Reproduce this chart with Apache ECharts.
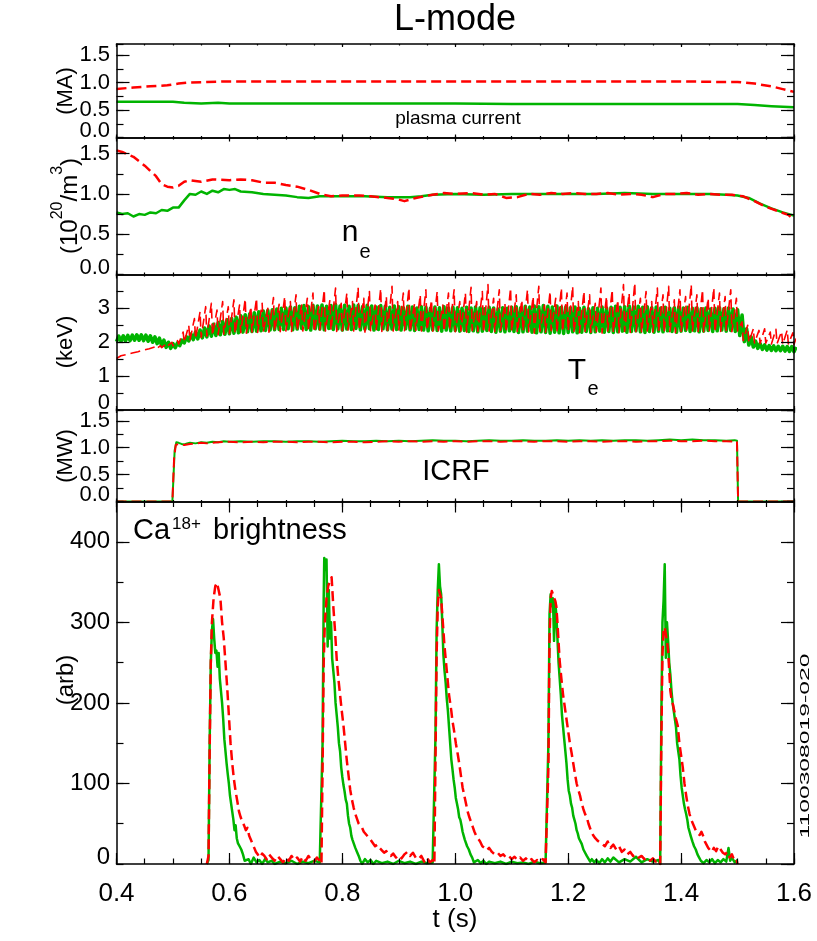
<!DOCTYPE html>
<html><head><meta charset="utf-8">
<script src="https://cdn.jsdelivr.net/npm/echarts@6/dist/echarts.min.js"></script>
<style>html,body{margin:0;padding:0;background:#fff}#c{width:817px;height:941px}</style>
</head><body><div id="c"></div>
<script>
// ---------------- DATA ----------------
const xTickLabels = ['0.4','0.6','0.8','1.0','1.2','1.4','1.6'];
const ipTickLabels = ['0.0','0.5','1.0','1.5'];
const neTickLabels = ['0.0','0.5','1.0','1.5'];
const teTickLabels = ['0','1','2','3'];
const icrfTickLabels = ['0.0','0.5','1.0','1.5'];
const caTickLabels = ['0','100','200','300','400'];

// plasma current (MA): [t, value]
const ipRed = [[0.40,0.88],[0.43,0.91],[0.46,0.93],[0.49,0.95],[0.51,0.98],[0.53,1.00],[0.56,1.01],[0.60,1.02],[0.65,1.02],[0.70,1.02],[0.80,1.02],[0.90,1.02],[1.00,1.02],[1.10,1.02],[1.20,1.02],[1.30,1.02],[1.40,1.02],[1.47,1.01],[1.50,1.01],[1.53,0.98],[1.56,0.93],[1.58,0.88],[1.60,0.83]];
const ipGreen = [[0.40,0.65],[0.45,0.65],[0.50,0.65],[0.52,0.63],[0.55,0.62],[0.58,0.63],[0.60,0.62],[0.70,0.62],[0.80,0.62],[0.90,0.62],[1.00,0.62],[1.10,0.61],[1.20,0.61],[1.30,0.61],[1.40,0.61],[1.50,0.61],[1.53,0.59],[1.56,0.57],[1.60,0.55]];

// density (1e20/m3): [t, value]
const neRed = [[0.40,1.54],[0.41,1.52],[0.43,1.46],[0.45,1.35],[0.47,1.22],[0.48,1.12],[0.49,1.09],[0.50,1.08],[0.51,1.10],[0.52,1.15],[0.53,1.17],[0.55,1.15],[0.57,1.18],[0.60,1.17],[0.62,1.18],[0.64,1.17],[0.66,1.14],[0.68,1.14],[0.70,1.11],[0.72,1.09],[0.74,1.05],[0.76,1.00],[0.78,0.97],[0.80,0.98],[0.83,0.98],[0.85,0.97],[0.88,0.95],[0.90,0.93],[0.91,0.91],[0.93,0.95],[0.96,0.99],[0.98,1.01],[1.00,1.00],[1.03,1.01],[1.05,0.99],[1.07,1.00],[1.09,0.95],[1.11,0.96],[1.13,1.00],[1.15,0.99],[1.17,1.01],[1.19,1.00],[1.21,1.01],[1.23,1.00],[1.25,1.00],[1.27,1.01],[1.29,0.99],[1.31,1.00],[1.33,0.99],[1.35,0.96],[1.37,1.00],[1.39,1.00],[1.41,1.01],[1.43,0.99],[1.45,1.00],[1.47,0.99],[1.49,0.99],[1.51,0.97],[1.53,0.91],[1.55,0.84],[1.57,0.79],[1.59,0.74],[1.60,0.68]];
const neGreen = [[0.40,0.77],[0.41,0.75],[0.42,0.76],[0.43,0.72],[0.44,0.75],[0.45,0.74],[0.46,0.77],[0.47,0.76],[0.48,0.80],[0.49,0.79],[0.50,0.83],[0.51,0.83],[0.52,0.92],[0.53,1.00],[0.54,0.99],[0.55,1.03],[0.56,1.00],[0.57,1.04],[0.58,1.02],[0.59,1.06],[0.60,1.05],[0.61,1.06],[0.62,1.03],[0.64,1.02],[0.66,1.00],[0.68,0.99],[0.70,0.98],[0.72,0.96],[0.74,0.95],[0.76,0.97],[0.78,0.97],[0.80,0.97],[0.84,0.97],[0.88,0.96],[0.92,0.96],[0.94,0.97],[0.96,0.99],[1.00,1.00],[1.05,0.99],[1.10,1.00],[1.15,1.00],[1.20,1.00],[1.25,1.00],[1.30,1.01],[1.35,1.00],[1.40,1.00],[1.45,1.00],[1.48,0.99],[1.50,0.98],[1.52,0.95],[1.54,0.88],[1.56,0.82],[1.58,0.77],[1.60,0.73]];

// electron temperature (keV): sawtooth troughs (lo) and crests (hi) sampled on a regular time base
const teGreenT0 = 0.4, teGreenStep = 0.008, teGreenHiOffset = 0.004;
const teGreenLo = [2.02,2.03,2.04,2.05,2.06,2.06,2.05,2.03,2.00,1.96,1.90,1.85,1.82,
 1.84,1.90,1.98,2.04,2.08,2.10,2.13,2.16,
 2.18,2.20,2.22,2.24,2.25,2.27,2.28,2.30,2.31,2.32,2.33,2.34,2.35,2.36,2.37,2.38,
 2.38,2.40,2.37,2.39,2.41,2.38,2.36,2.40,2.39,2.37,2.41,2.38,2.40,2.36,2.39,2.38,2.41,2.37,2.39,2.40,
 2.36,2.38,2.40,2.37,2.39,2.38,2.36,2.40,2.37,2.35,2.38,2.36,2.34,2.37,2.35,2.33,2.36,2.34,2.35,
 2.33,2.35,2.32,2.34,2.31,2.33,2.35,2.32,2.30,2.33,2.31,2.34,2.32,2.29,2.31,2.33,2.30,2.28,2.31,2.29,
 2.27,2.30,2.28,2.26,2.29,2.31,2.28,2.30,2.32,2.29,2.31,2.33,2.30,2.32,2.29,2.31,2.33,2.30,2.32,2.34,
 2.31,2.29,2.32,2.30,2.33,2.31,2.34,2.32,2.30,2.33,2.35,2.32,2.34,2.31,2.33,2.35,2.32,2.34,2.36,2.33,
 2.35,2.32,
 2.20,2.02,1.92,1.86,1.82,1.79,1.77,1.76,1.75,1.75,1.74,1.73,1.72];
const teGreenHi = [2.18,2.19,2.20,2.21,2.22,2.22,2.21,2.19,2.16,2.12,2.06,2.00,1.96,
 1.98,2.06,2.16,2.24,2.30,2.36,2.42,2.48,
 2.53,2.58,2.62,2.66,2.70,2.74,2.78,2.81,2.84,2.87,2.90,2.92,2.94,2.96,2.98,3.00,
 3.01,3.04,3.02,3.06,3.08,3.05,3.09,3.07,3.10,3.06,3.08,3.11,3.07,3.09,3.06,3.10,3.08,3.05,3.09,3.07,
 3.04,3.08,3.06,3.03,3.07,3.05,3.02,3.06,3.04,3.01,3.05,3.03,3.00,3.04,3.02,3.05,3.01,3.03,3.02,
 3.00,3.03,3.01,3.04,3.02,2.99,3.03,3.01,2.98,3.02,3.00,3.03,3.05,3.02,3.06,3.04,3.07,3.05,3.08,3.06,
 3.04,3.07,3.03,3.05,3.02,3.04,3.00,3.03,2.99,3.02,3.00,3.04,3.01,3.03,3.06,3.03,3.05,3.07,3.04,3.06,
 3.03,3.05,3.02,3.04,3.01,3.03,3.00,3.02,3.04,3.01,3.03,3.00,3.02,2.99,3.01,2.98,3.00,3.02,2.99,3.01,
 2.98,2.96,
 2.80,2.40,2.16,2.03,1.96,1.92,1.90,1.89,1.88,1.88,1.87,1.87,1.86];
const teRedT0 = 0.4, teRedStep = 0.01, teRedHiOffset = 0.008;
const teRedLo = [1.52,1.56,1.60,1.64,1.68,1.72,1.76,1.80,1.84,1.88,1.90,
 1.95,2.00,2.05,2.10,2.14,
 2.18,2.20,2.22,2.24,2.25,
 2.26,2.28,2.27,2.30,2.29,2.31,2.30,2.32,2.31,2.33,
 2.32,2.34,2.33,2.35,2.30,2.36,2.33,2.35,2.32,2.34,
 2.36,2.33,2.35,2.30,2.34,2.37,2.32,2.35,2.33,2.36,
 2.34,2.31,2.35,2.33,2.36,2.30,2.34,2.32,2.35,2.31,
 2.33,2.30,2.34,2.32,2.28,2.33,2.31,2.35,2.30,2.32,
 2.29,2.33,2.31,2.27,2.32,2.30,2.34,2.28,2.31,2.33,
 2.30,2.28,2.32,2.29,2.31,2.27,2.33,2.30,2.28,2.32,
 2.29,2.31,2.28,2.33,2.30,2.32,2.29,2.31,2.28,2.32,
 2.30,2.33,2.29,2.31,2.34,2.30,2.32,2.35,2.31,2.33,
 2.05,2.00,1.98,1.96,1.97,1.95,1.96,1.94,1.95,1.93];
const teRedHi = [1.60,1.64,1.68,1.72,1.77,1.81,1.86,1.90,1.95,2.00,2.05,
 2.30,2.50,2.70,2.90,3.05,
 3.15,2.95,3.20,3.05,3.25,
 3.10,3.28,3.05,3.30,3.15,3.00,3.32,3.12,3.35,3.20,
 3.40,3.10,3.30,3.45,3.05,3.55,3.25,3.60,3.15,3.45,
 3.20,3.62,3.30,3.50,3.10,3.58,3.35,3.65,3.20,3.45,
 3.60,3.15,3.40,3.55,3.25,3.50,3.10,3.45,3.55,3.20,
 3.45,3.62,3.20,3.50,3.70,3.30,3.55,3.15,3.60,3.40,
 3.25,3.55,3.35,3.65,3.10,3.50,3.30,3.60,3.45,3.65,
 3.20,3.50,3.40,3.15,3.60,3.35,3.55,3.25,3.70,3.45,
 3.75,3.30,3.50,3.20,3.60,3.40,3.65,3.25,3.55,3.35,
 3.70,3.40,3.55,3.30,3.60,3.45,3.35,3.55,3.30,2.60,
 2.50,2.40,2.35,2.40,2.30,2.38,2.32,2.36,2.28,2.34];

// ICRF power (MW): [t, value]
const icrfGreen = [[0.40,0],[0.499,0],[0.503,0.95],[0.506,1.10],[0.51,1.09],[0.515,1.07],[0.52,1.06],[0.525,1.08],[0.53,1.09],[0.54,1.08],[0.55,1.10],[0.56,1.09],[0.57,1.11],[0.58,1.10],[0.59,1.12],[0.60,1.11],[0.62,1.12],[0.64,1.11],[0.66,1.12],[0.68,1.12],[0.70,1.11],[0.72,1.12],[0.74,1.12],[0.76,1.11],[0.78,1.12],[0.80,1.13],[0.82,1.12],[0.84,1.12],[0.86,1.13],[0.88,1.12],[0.90,1.13],[0.92,1.12],[0.94,1.13],[0.96,1.14],[0.98,1.13],[1.00,1.13],[1.02,1.12],[1.04,1.13],[1.06,1.14],[1.08,1.13],[1.10,1.13],[1.12,1.14],[1.14,1.13],[1.16,1.13],[1.18,1.14],[1.20,1.13],[1.22,1.14],[1.24,1.13],[1.26,1.14],[1.28,1.13],[1.30,1.14],[1.32,1.14],[1.34,1.13],[1.36,1.14],[1.38,1.15],[1.40,1.14],[1.42,1.15],[1.44,1.14],[1.46,1.14],[1.48,1.13],[1.495,1.14],[1.499,1.13],[1.501,0],[1.60,0]];
const icrfRed = [[0.40,0],[0.499,0],[0.502,0.80],[0.505,1.05],[0.51,1.07],[0.515,1.06],[0.52,1.05],[0.53,1.07],[0.54,1.08],[0.55,1.09],[0.56,1.08],[0.58,1.10],[0.60,1.11],[0.62,1.10],[0.64,1.11],[0.66,1.10],[0.68,1.11],[0.70,1.11],[0.72,1.10],[0.74,1.11],[0.76,1.11],[0.78,1.10],[0.80,1.11],[0.82,1.11],[0.84,1.10],[0.86,1.11],[0.88,1.12],[0.90,1.11],[0.92,1.12],[0.94,1.11],[0.96,1.12],[0.98,1.11],[1.00,1.12],[1.02,1.11],[1.04,1.12],[1.06,1.12],[1.08,1.11],[1.10,1.12],[1.12,1.12],[1.14,1.11],[1.16,1.12],[1.18,1.12],[1.20,1.11],[1.22,1.12],[1.24,1.12],[1.26,1.11],[1.28,1.12],[1.30,1.12],[1.32,1.11],[1.34,1.12],[1.36,1.12],[1.38,1.13],[1.40,1.12],[1.42,1.12],[1.44,1.13],[1.46,1.12],[1.48,1.12],[1.495,1.11],[1.499,1.12],[1.501,0],[1.60,0]];

// Ca18+ brightness (arb): [t, value]
const caGreen = [[0.560,0],[0.563,5],[0.565,150],[0.567,250],[0.569,290],[0.571,304],[0.573,280],[0.575,262],[0.577,265],[0.579,245],[0.581,262],[0.583,230],[0.585,215],[0.587,200],[0.589,180],[0.591,155],[0.593,140],[0.595,125],[0.597,112],[0.599,100],[0.601,85],[0.603,75],[0.605,65],[0.607,55],[0.609,42],[0.611,48],[0.613,32],[0.615,26],[0.618,22],[0.621,18],[0.624,12],[0.627,4],[0.630,2],[0.634,6],[0.638,0],[0.643,8],[0.648,2],[0.653,5],[0.658,0],[0.663,6],[0.668,2],[0.675,4],[0.68,0],[0.69,3],[0.70,1],[0.71,4],[0.72,0],[0.73,3],[0.74,1],[0.75,4],[0.76,2],[0.763,0],
 [0.765,150],[0.767,330],[0.768,380],[0.770,365],[0.772,378],[0.774,270],[0.776,340],[0.778,280],[0.780,300],[0.782,255],[0.784,240],[0.786,225],[0.788,200],[0.790,185],[0.792,170],[0.794,150],[0.796,140],[0.798,120],[0.800,108],[0.802,98],[0.804,90],[0.806,80],[0.808,75],[0.810,60],[0.812,50],[0.814,45],[0.816,35],[0.818,30],[0.820,28],[0.823,20],[0.826,15],[0.829,10],[0.832,4],[0.835,0],[0.84,6],[0.845,2],[0.85,5],[0.855,0],[0.86,4],[0.87,1],[0.88,3],[0.89,0],[0.90,4],[0.91,1],[0.92,3],[0.93,0],[0.94,3],[0.95,1],[0.96,2],[0.963,0],
 [0.965,160],[0.967,290],[0.969,340],[0.971,372],[0.973,345],[0.975,335],[0.977,300],[0.979,260],[0.981,240],[0.983,225],[0.985,205],[0.987,190],[0.989,170],[0.991,150],[0.993,130],[0.995,118],[0.997,105],[0.999,95],[1.001,82],[1.003,75],[1.005,68],[1.007,58],[1.009,55],[1.011,48],[1.013,40],[1.015,35],[1.017,30],[1.019,28],[1.021,22],[1.024,18],[1.027,12],[1.030,8],[1.033,2],[1.036,0],[1.04,5],[1.045,1],[1.05,4],[1.055,0],[1.06,3],[1.07,1],[1.08,3],[1.09,0],[1.10,3],[1.11,1],[1.12,2],[1.13,0],[1.14,3],[1.15,1],[1.16,2],[1.163,0],
 [1.165,150],[1.167,310],[1.169,335],[1.171,320],[1.173,330],[1.175,277],[1.177,325],[1.179,310],[1.181,280],[1.183,250],[1.185,230],[1.187,210],[1.189,185],[1.191,170],[1.193,155],[1.195,140],[1.197,125],[1.199,105],[1.201,91],[1.203,85],[1.205,75],[1.207,70],[1.209,60],[1.211,55],[1.213,50],[1.215,42],[1.217,38],[1.219,32],[1.221,30],[1.224,25],[1.227,18],[1.230,14],[1.233,10],[1.236,8],[1.239,3],[1.242,6],[1.246,2],[1.25,5],[1.255,1],[1.26,6],[1.265,2],[1.27,7],[1.275,3],[1.28,8],[1.29,2],[1.30,6],[1.31,3],[1.32,9],[1.33,2],[1.34,6],[1.35,3],[1.36,5],[1.363,0],
 [1.365,180],[1.367,300],[1.369,327],[1.371,372],[1.373,256],[1.375,300],[1.377,277],[1.379,250],[1.381,235],[1.383,215],[1.385,200],[1.387,190],[1.389,180],[1.391,170],[1.393,150],[1.395,140],[1.397,130],[1.399,110],[1.401,95],[1.403,85],[1.405,75],[1.407,68],[1.409,62],[1.411,55],[1.413,45],[1.415,40],[1.417,35],[1.420,28],[1.423,22],[1.426,18],[1.429,12],[1.432,8],[1.435,4],[1.44,1],[1.445,5],[1.45,2],[1.455,6],[1.46,1],[1.465,5],[1.47,2],[1.475,6],[1.48,3],[1.484,20],[1.487,4],[1.49,8],[1.495,2],[1.50,5]];
const caRed = [[0.560,0],[0.563,10],[0.565,140],[0.567,250],[0.569,300],[0.572,330],[0.575,345],[0.578,349],[0.581,347],[0.584,330],[0.587,300],[0.590,280],[0.593,250],[0.596,220],[0.599,185],[0.602,150],[0.605,125],[0.608,105],[0.611,90],[0.614,78],[0.617,65],[0.620,58],[0.623,52],[0.626,48],[0.629,42],[0.632,45],[0.635,35],[0.638,30],[0.641,25],[0.644,20],[0.647,15],[0.650,12],[0.654,8],[0.658,13],[0.662,10],[0.666,6],[0.670,12],[0.675,8],[0.680,4],[0.685,10],[0.69,6],[0.695,2],[0.70,8],[0.705,4],[0.71,10],[0.715,5],[0.72,8],[0.725,3],[0.73,9],[0.735,4],[0.74,10],[0.745,5],[0.75,3],[0.755,8],[0.76,4],[0.763,0],
 [0.765,120],[0.767,250],[0.769,300],[0.772,330],[0.775,345],[0.778,352],[0.781,356],[0.784,320],[0.787,290],[0.790,255],[0.793,230],[0.796,210],[0.799,190],[0.802,172],[0.805,150],[0.808,128],[0.811,110],[0.814,92],[0.817,80],[0.820,70],[0.823,62],[0.826,56],[0.829,50],[0.832,48],[0.835,45],[0.838,40],[0.841,38],[0.844,35],[0.847,33],[0.850,30],[0.854,26],[0.858,22],[0.862,24],[0.866,20],[0.870,17],[0.874,14],[0.878,16],[0.882,12],[0.886,10],[0.89,13],[0.895,8],[0.90,11],[0.905,7],[0.91,12],[0.915,15],[0.92,10],[0.925,14],[0.93,8],[0.935,6],[0.94,10],[0.945,3],[0.95,8],[0.955,2],[0.96,5],[0.963,0],
 [0.965,130],[0.967,260],[0.969,320],[0.971,340],[0.973,335],[0.975,330],[0.977,310],[0.979,290],[0.981,270],[0.983,255],[0.985,240],[0.987,225],[0.989,210],[0.991,200],[0.993,190],[0.995,178],[0.998,165],[1.001,150],[1.004,138],[1.007,125],[1.010,110],[1.013,95],[1.016,85],[1.019,75],[1.022,65],[1.025,58],[1.028,52],[1.031,46],[1.034,40],[1.037,35],[1.040,32],[1.044,28],[1.048,22],[1.052,20],[1.056,17],[1.060,20],[1.065,15],[1.07,12],[1.075,14],[1.08,10],[1.085,12],[1.09,8],[1.095,10],[1.10,6],[1.105,9],[1.11,5],[1.115,8],[1.12,4],[1.125,7],[1.13,3],[1.135,6],[1.14,2],[1.145,5],[1.15,3],[1.155,6],[1.16,2],[1.163,0],
 [1.165,120],[1.167,280],[1.169,330],[1.171,339],[1.173,335],[1.175,330],[1.177,327],[1.179,320],[1.181,300],[1.183,275],[1.185,252],[1.188,230],[1.191,210],[1.194,195],[1.197,180],[1.200,165],[1.203,150],[1.206,138],[1.209,125],[1.212,112],[1.215,100],[1.218,92],[1.221,85],[1.224,75],[1.227,68],[1.230,62],[1.233,58],[1.236,50],[1.240,42],[1.244,36],[1.248,32],[1.252,29],[1.256,27],[1.260,25],[1.265,22],[1.27,28],[1.275,20],[1.28,24],[1.285,18],[1.29,22],[1.295,15],[1.30,18],[1.305,12],[1.31,15],[1.315,10],[1.32,12],[1.325,8],[1.33,10],[1.335,6],[1.34,8],[1.345,4],[1.35,7],[1.355,3],[1.36,5],[1.363,0],
 [1.365,150],[1.367,260],[1.369,290],[1.371,294],[1.373,285],[1.375,277],[1.377,265],[1.379,240],[1.381,215],[1.383,205],[1.385,200],[1.388,190],[1.391,180],[1.394,172],[1.397,150],[1.400,135],[1.403,120],[1.406,100],[1.409,85],[1.412,72],[1.415,62],[1.418,55],[1.421,50],[1.424,45],[1.427,40],[1.430,38],[1.433,36],[1.436,40],[1.439,35],[1.442,28],[1.445,24],[1.448,20],[1.451,18],[1.454,15],[1.458,20],[1.462,16],[1.466,22],[1.470,18],[1.474,14],[1.478,12],[1.482,15],[1.486,8],[1.490,12],[1.494,5],[1.498,6],[1.50,0]];

// ---------------- LAYOUT ----------------
const FONT = '"Liberation Sans", Arial, Helvetica, sans-serif';
const GREEN = '#00b400', RED = '#ff0000';
const xMin = 0.4, xMax = 1.6, xMajor = 0.2, xMinor = 0.05;
const plotLeft = 116.5, plotWidth = 677.5;
const panels = [
  {top:44,    height:93.5,  max:1.7, major:0.5, minor:0.25, xTick:3,  fs:22, labels:ipTickLabels},
  {top:137.5, height:137,   max:1.7, major:0.5, minor:0.25, xTick:4,  fs:22, labels:neTickLabels},
  {top:274.5, height:135.5, max:4,   major:1,   minor:0.5,  xTick:4,  fs:22, labels:teTickLabels},
  {top:410,   height:91.5,  max:1.7, major:0.5, minor:0.25, xTick:3,  fs:22, labels:icrfTickLabels},
  {top:501.5, height:362.5, max:450, major:100, minor:50,   xTick:11, fs:24, labels:caTickLabels}
];

function xAxisDef(gi, pos, interval, len, labels, line) {
  return {type:'value', gridIndex:gi, position:pos, min:xMin, max:xMax, interval, z:10,
    axisLine:{show:line, onZero:false, lineStyle:{color:'#000', width:1.5}},
    axisTick:{show:true, inside:true, length:len, lineStyle:{color:'#000', width:1.2}},
    axisLabel:{show:labels, margin:17, color:'#000', fontSize:26, fontFamily:FONT,
      formatter: v => xTickLabels[Math.round((v - xMin) / xMajor)] || ''},
    splitLine:{show:false}, axisPointer:{show:false}};
}
function yAxisDef(gi, pos, p, interval, len, labels, line) {
  return {type:'value', gridIndex:gi, position:pos, min:0, max:p.max, interval, z:10,
    axisLine:{show:line, onZero:false, lineStyle:{color:'#000', width:1.5}},
    axisTick:{show:true, inside:true, length:len, lineStyle:{color:'#000', width:1.2}},
    axisLabel:{show:labels, margin:6.5, color:'#000', fontSize:p.fs, fontFamily:FONT, lineHeight:14,
      showMinLabel:false, showMaxLabel:false, hideOverlap:false,
      formatter: v => { const k = Math.round(v / p.major); return Math.abs(k * p.major - v) < 1e-6 ? (p.labels[k] || '') : ''; }},
    splitLine:{show:false}, axisPointer:{show:false}};
}
// separate axis that only carries the zero label, drawn sitting on the bottom edge
function yZeroLabelDef(gi, p) {
  return {type:'value', gridIndex:gi, position:'left', min:0, max:p.max, interval:p.max, z:10,
    axisLine:{show:false}, axisTick:{show:false}, splitLine:{show:false}, axisPointer:{show:false},
    axisLabel:{show:true, margin:6.5, color:'#000', fontSize:p.fs, fontFamily:FONT, lineHeight:14,
      verticalAlign:'bottom', showMinLabel:true, showMaxLabel:false, hideOverlap:false,
      formatter: v => (Math.abs(v) < 1e-9 ? p.labels[0] : '')}};
}

const option = {
  animation:false, backgroundColor:'#fff', textStyle:{fontFamily:FONT},
  grid: panels.map(p => ({left:plotLeft, width:plotWidth, top:p.top, height:p.height, containLabel:false, outerBoundsMode:'none'})),
  xAxis:[], yAxis:[], series:[], graphic:[]
};
panels.forEach((p, i) => {
  const last = i === panels.length - 1;
  option.xAxis.push(xAxisDef(i, 'bottom', xMajor, p.xTick, last, true));
  option.xAxis.push(xAxisDef(i, 'bottom', xMinor, p.xTick / 2, false, false));
  option.xAxis.push(xAxisDef(i, 'top', xMajor, p.xTick, false, true));
  option.xAxis.push(xAxisDef(i, 'top', xMinor, p.xTick / 2, false, false));
  option.yAxis.push(yAxisDef(i, 'left', p, p.major, 13, true, true));
  option.yAxis.push(yAxisDef(i, 'left', p, p.minor, 7, false, false));
  option.yAxis.push(yAxisDef(i, 'right', p, p.major, 13, false, true));
  option.yAxis.push(yAxisDef(i, 'right', p, p.minor, 7, false, false));
});
panels.forEach((p, i) => option.yAxis.push(yZeroLabelDef(i, p)));

function interleave(t0, step, off, lo, hi) {
  const out = [];
  for (let i = 0; i < lo.length; i++) {
    out.push([t0 + i * step, lo[i]]);
    out.push([t0 + i * step + off, hi[i]]);
  }
  return out;
}
function line(i, data, color, dashed, w) {
  return {type:'line', xAxisIndex:4 * i, yAxisIndex:4 * i, data, symbol:'none', showSymbol:false,
    silent:true, clip:true, animation:false, z: dashed ? 3 : 2,
    lineStyle:{color, width:w || 2.5, type: dashed ? [10, 5] : 'solid', join:'round'}};
}
option.series.push(line(0, ipGreen, GREEN, false), line(0, ipRed, RED, true));
option.series.push(line(1, neGreen, GREEN, false), line(1, neRed, RED, true));
option.series.push(line(2, interleave(teGreenT0, teGreenStep, teGreenHiOffset, teGreenLo, teGreenHi), GREEN, false, 3.6),
                   line(2, interleave(teRedT0, teRedStep, teRedHiOffset, teRedLo, teRedHi), RED, true, 1.6));
option.series.push(line(3, icrfGreen, GREEN, false, 2), line(3, icrfRed, RED, true, 2));
option.series.push(line(4, caGreen, GREEN, false), line(4, caRed, RED, true));

function txt(x, y, text, size, align, extra) {
  return Object.assign({type:'text', x, y, silent:true, z:20,
    style:{text, fill:'#000', font: size + 'px ' + FONT, align: align || 'center', verticalAlign:'middle'}}, extra || {});
}
const R = Math.PI / 2;
option.graphic = [
  txt(455, 20, 'L-mode', 36),
  txt(458, 119, 'plasma current', 19),
  txt(350, 232.5, 'n', 30), txt(365, 252, 'e', 20),
  txt(577, 370.5, 'T', 30), txt(593, 389, 'e', 20),
  txt(456, 472, 'ICRF', 29),
  txt(133, 531, 'Ca', 29, 'left'), txt(172, 524.5, '18+', 17, 'left'), txt(213, 531, 'brightness', 29, 'left'),
  txt(455, 920, 't (s)', 26),
  txt(66, 91, '(MA)', 22, 'center', {rotation:R}),
  {type:'text', x:66, y:206, rotation:R, silent:true, z:20,
   style:{text:'{n|(10}{s|20}{n|/m}{s|3}{n|)}', align:'center', verticalAlign:'middle', fill:'#000',
     rich:{n:{fontSize:24, fontFamily:FONT, lineHeight:32, verticalAlign:'bottom', fill:'#000'},
           s:{fontSize:16, fontFamily:FONT, lineHeight:16, verticalAlign:'top', fill:'#000'}}}},
  txt(66, 342, '(keV)', 22, 'center', {rotation:R}),
  txt(66, 456, '(MW)', 22, 'center', {rotation:R}),
  txt(66, 680, '(arb)', 24, 'center', {rotation:R}),
  txt(805, 746, '1100308019-020', 13, 'center', {rotation:R, scaleX:1.9})
];

const chart = echarts.init(document.getElementById('c'), null, {renderer:'canvas', width:817, height:941});
chart.setOption(option);
</script>
</body></html>
